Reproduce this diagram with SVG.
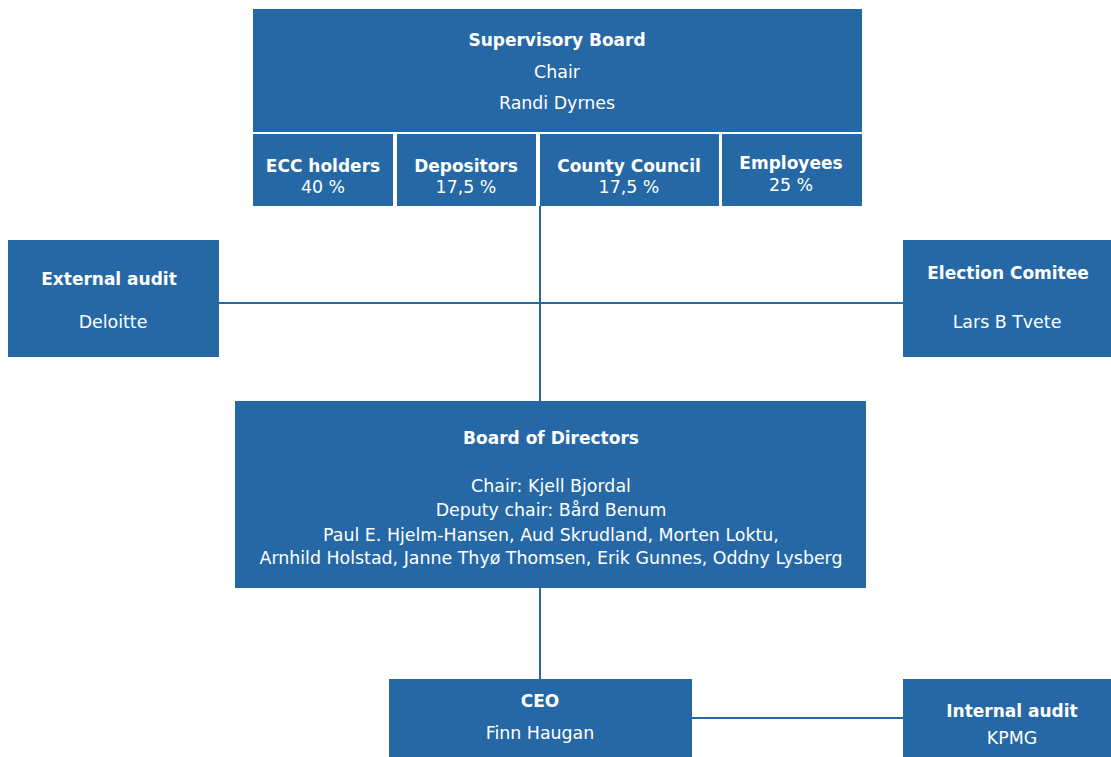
<svg xmlns="http://www.w3.org/2000/svg" width="1111" height="757" viewBox="0 0 1111 757">
<style>
.box{fill:#2568a5}
.t{font-family:"DejaVu Sans",Verdana,sans-serif;font-size:17.4px;fill:#ffffff;text-anchor:middle}
.b{font-weight:bold;font-size:17px}
.c{stroke:#2568a5;stroke-width:2;fill:none}
</style>
<rect width="1111" height="757" fill="#ffffff"/>
<g id="connectors">
<line class="c" x1="540" y1="206" x2="540" y2="401"/>
<line class="c" x1="219" y1="303" x2="903" y2="303"/>
<line class="c" x1="540" y1="588" x2="540" y2="679"/>
<line class="c" x1="692" y1="718" x2="903" y2="718"/>
</g>
<g id="supervisory-board">
<rect class="box" x="253" y="9" width="609" height="123"/>
<text class="t b" x="557" y="46">Supervisory Board</text>
<text class="t" x="557" y="78">Chair</text>
<text class="t" x="557" y="109">Randi Dyrnes</text>
</g>
<g id="ecc-holders">
<rect class="box" x="253" y="134" width="140" height="72"/>
<text class="t b" x="323" y="172">ECC holders</text>
<text class="t" x="323" y="193">40 %</text>
</g>
<g id="depositors">
<rect class="box" x="397" y="134" width="139" height="72"/>
<text class="t b" x="466" y="172">Depositors</text>
<text class="t" x="466" y="193">17,5 %</text>
</g>
<g id="county-council">
<rect class="box" x="540" y="134" width="179" height="72"/>
<text class="t b" x="629" y="172">County Council</text>
<text class="t" x="629" y="193">17,5 %</text>
</g>
<g id="employees">
<rect class="box" x="722" y="134" width="140" height="72"/>
<text class="t b" x="791" y="169">Employees</text>
<text class="t" x="791" y="191">25 %</text>
</g>
<g id="external-audit">
<rect class="box" x="8" y="240" width="211" height="117"/>
<text class="t b" x="109" y="285">External audit</text>
<text class="t" x="113" y="328">Deloitte</text>
</g>
<g id="election-comitee">
<rect class="box" x="903" y="240" width="208" height="117"/>
<text class="t b" x="1008" y="279">Election Comitee</text>
<text class="t" x="1007" y="328">Lars B Tvete</text>
</g>
<g id="board-of-directors">
<rect class="box" x="235" y="401" width="631" height="187"/>
<text class="t b" x="551" y="444">Board of Directors</text>
<text class="t" x="551" y="492">Chair: Kjell Bjordal</text>
<text class="t" x="551" y="516">Deputy chair: Bård Benum</text>
<text class="t" x="551" y="541">Paul E. Hjelm-Hansen, Aud Skrudland, Morten Loktu,</text>
<text class="t" x="551" y="564">Arnhild Holstad, Janne Thyø Thomsen, Erik Gunnes, Oddny Lysberg</text>
</g>
<g id="ceo">
<rect class="box" x="389" y="679" width="303" height="78"/>
<text class="t b" x="540" y="707">CEO</text>
<text class="t" x="540" y="739">Finn Haugan</text>
</g>
<g id="internal-audit">
<rect class="box" x="903" y="679" width="208" height="78"/>
<text class="t b" x="1012" y="717">Internal audit</text>
<text class="t" x="1012" y="744">KPMG</text>
</g>
</svg>
